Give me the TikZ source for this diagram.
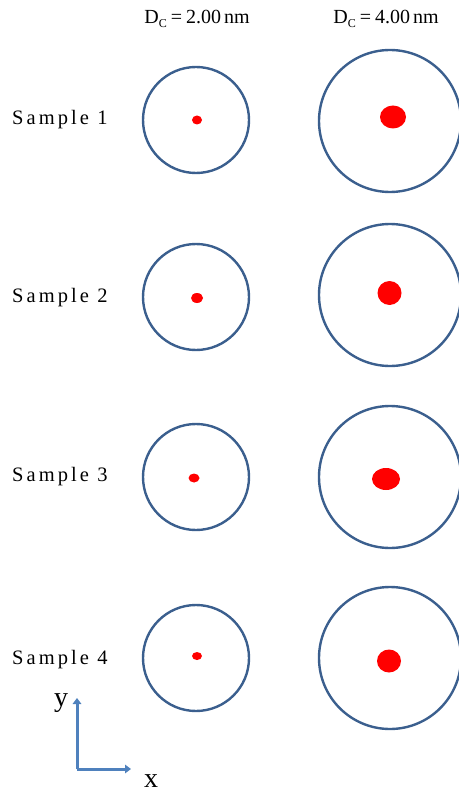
\documentclass[tikz,border=0pt]{standalone}
\usepackage{fontspec}
\setmainfont{Liberation Serif}
\newfontfamily\spacedfont[LetterSpace=15]{Liberation Serif}
\usetikzlibrary{arrows.meta}
\definecolor{ringblue}{HTML}{3B5F8E}
\definecolor{axisblue}{HTML}{4F81BD}
\definecolor{dotred}{HTML}{FF0000}
\newcommand{\lowsub}[1]{\raisebox{-3.5pt}{\fontsize{12}{14}\selectfont #1}}
\tikzset{
  smallring/.style={circle,draw=ringblue,line width=2.4pt,minimum size=106pt,inner sep=0pt},
  bigring/.style={circle,draw=ringblue,line width=2.4pt,minimum size=142pt,inner sep=0pt},
  samplelabel/.style={anchor=west,inner sep=0pt,font=\spacedfont\fontsize{20.5}{24}\selectfont},
  header/.style={inner sep=0pt,font=\fontsize{20}{24}\selectfont},
  axislabel/.style={inner sep=0pt,font=\fontsize{28}{30}\selectfont},
  axisline/.style={draw=axisblue,line width=3pt,-{Triangle[length=6pt,width=8.5pt]}},
  dot/.style={fill=dotred}
}
\begin{document}
\begin{tikzpicture}[x=1pt,y=-1pt]
\useasboundingbox (0,0) rectangle (458,794);
% headers
\node[header] (h1) at (197,19) {D\lowsub{C}\kern4pt=\kern4pt2.00\kern3pt nm};
\node[header] (h2) at (386,19) {D\lowsub{C}\kern4pt=\kern4pt4.00\kern3pt nm};
% labels
\node[samplelabel] (s1) at (12,120) {Sample 1};
\node[samplelabel] (s2) at (12,298) {Sample 2};
\node[samplelabel] (s3) at (12,477) {Sample 3};
\node[samplelabel] (s4) at (12,660) {Sample 4};
% rings
\node[smallring] (a1) at (196,120) {};
\node[smallring] (a2) at (196,297) {};
\node[smallring] (a3) at (196,477) {};
\node[smallring] (a4) at (196,658) {};
\node[bigring] (b1) at (390,121) {};
\node[bigring] (b2) at (390,295) {};
\node[bigring] (b3) at (390,477) {};
\node[bigring] (b4) at (390,658) {};
% dots
\fill[dot] (197,120) ellipse [x radius=5pt,y radius=4.5pt];
\fill[dot] (197,298) ellipse [x radius=6pt,y radius=5pt];
\fill[dot] (194,478) ellipse [x radius=5.5pt,y radius=4.5pt];
\fill[dot] (197,656) ellipse [x radius=5pt,y radius=4pt];
\fill[dot] (393,117) ellipse [x radius=13pt,y radius=11.5pt];
\fill[dot] (389.5,293) ellipse [x radius=12pt,y radius=12pt];
\fill[dot] (386,479) ellipse [x radius=14pt,y radius=11pt];
\fill[dot] (389,661) ellipse [x radius=12pt,y radius=11.5pt];
% axes
\coordinate (o) at (77,769);
\coordinate (yend) at (77,698);
\coordinate (xend) at (131,769);
\draw[axisline] (o) -- (yend);
\draw[axisline] (o) -- (xend);
\node[axislabel] (ly) at (61,703) {y};
\node[axislabel] (lx) at (151,781) {x};
\end{tikzpicture}
\end{document}
